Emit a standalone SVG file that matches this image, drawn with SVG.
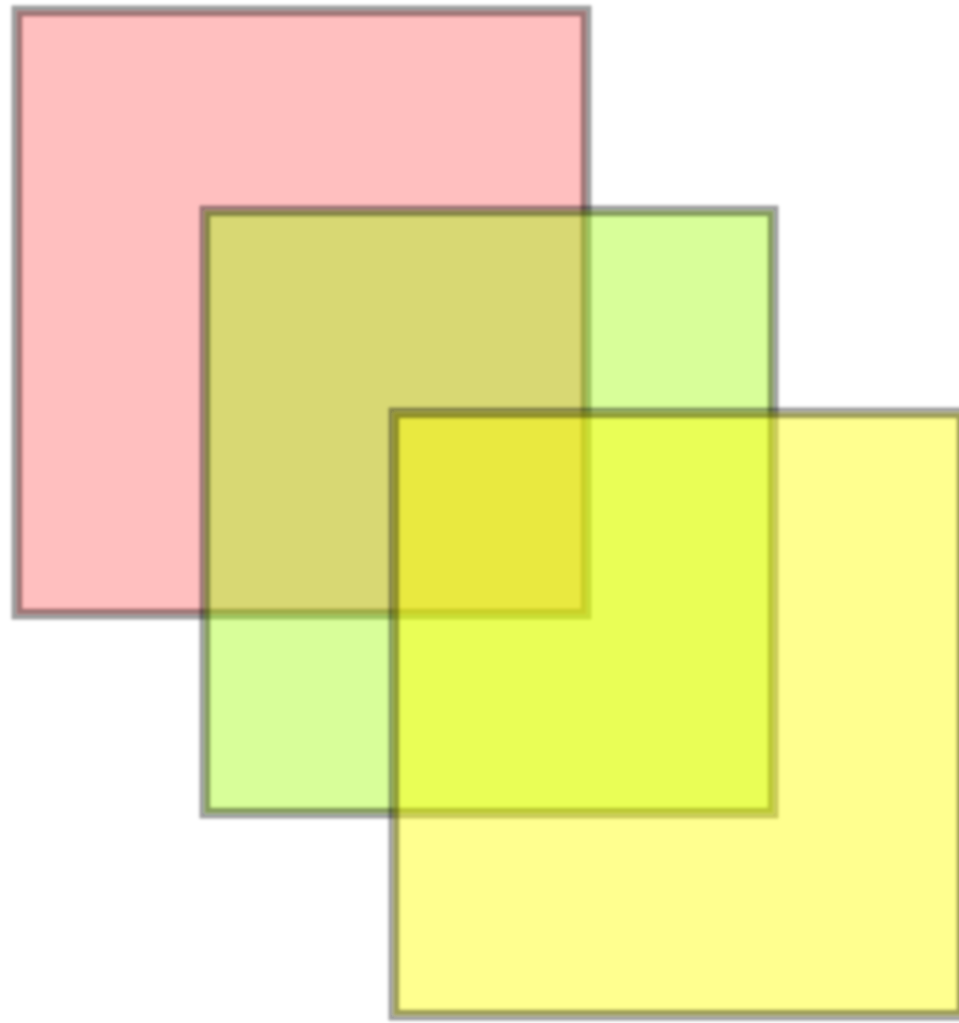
<svg xmlns="http://www.w3.org/2000/svg" width="959" height="1023" viewBox="0 0 959 1023">
  <defs>
    <filter id="soft" x="-5%" y="-5%" width="110%" height="110%">
      <feGaussianBlur stdDeviation="1.5"/>
    </filter>
  </defs>
  <style>
    .sq { stroke: #000000; stroke-opacity: 0.38; stroke-width: 11; filter: url(#soft); }
    .red { fill: #ff0000; fill-opacity: 0.25; }
    .green { fill: #9dfc00; fill-opacity: 0.4; }
    .yellow { fill: #ffff00; fill-opacity: 0.44; }
  </style>
  <rect width="959" height="1023" fill="#ffffff"/>
  <g id="square-red">
    <rect class="sq red" x="17" y="11" width="569" height="603"/>
  </g>
  <g id="square-green">
    <rect class="sq green" x="205" y="211" width="568" height="602"/>
  </g>
  <g id="square-yellow">
    <rect class="sq yellow" x="394" y="413" width="568" height="602"/>
  </g>
</svg>
